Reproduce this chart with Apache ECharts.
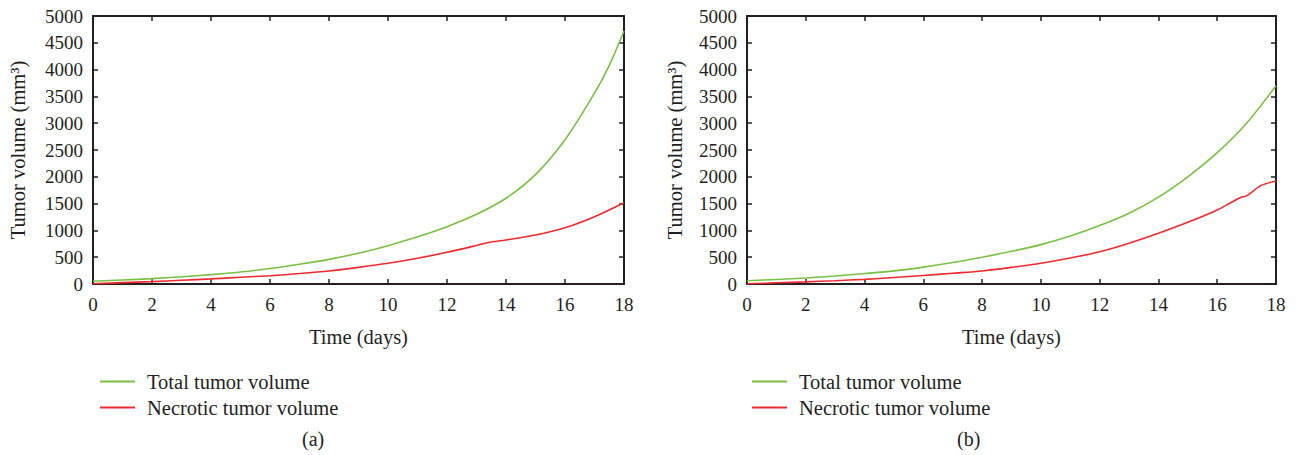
<!DOCTYPE html>
<html>
<head>
<meta charset="utf-8">
<script src="https://cdn.jsdelivr.net/npm/echarts@6/dist/echarts.min.js"></script>
<style>
  html, body { margin: 0; padding: 0; background: #fff; }
  #chart { width: 1301px; height: 455px; }
</style>
</head>
<body>
<div id="chart"></div>
<script>
// panel (a)
var daysTotalA = [0, 1, 2, 3, 4, 5, 6, 7, 8, 9, 10, 11, 12, 13, 14, 15, 16, 17, 17.5, 18];
var totalA = [50, 75, 100, 135, 175, 225, 290, 370, 460, 575, 715, 880, 1070, 1300, 1600, 2040, 2690, 3560, 4080, 4720];
var daysNecroA = [0, 1, 2, 3, 4, 5, 6, 7, 8, 9, 10, 11, 12, 13, 13.4, 14, 15, 16, 17, 18];
var necroA = [5, 25, 45, 70, 95, 125, 155, 195, 243, 310, 386, 480, 591, 720, 775, 821, 914, 1050, 1256, 1517];

// panel (b)
var daysTotalB = [0, 1, 2, 3, 4, 5, 6, 7, 8, 9, 10, 11, 12, 13, 14, 15, 16, 17, 18];
var totalB = [60, 85, 112, 150, 195, 245, 315, 400, 500, 610, 735, 895, 1090, 1320, 1620, 2000, 2450, 3000, 3700];
var daysNecroB = [0, 1, 2, 3, 4, 5, 6, 7, 8, 9, 10, 11, 12, 13, 14, 15, 16, 16.5, 16.8, 17, 17.5, 18];
var necroB = [5, 22, 40, 62, 87, 120, 158, 200, 243, 310, 386, 485, 600, 760, 946, 1150, 1380, 1530, 1615, 1645, 1840, 1920];

var xTicks = [0, 2, 4, 6, 8, 10, 12, 14, 16, 18];
var yTicks = [0, 500, 1000, 1500, 2000, 2500, 3000, 3500, 4000, 4500, 5000];
var seriesNames = ['Total tumor volume', 'Necrotic tumor volume'];
var panelLabels = ['(a)', '(b)'];

var ink = '#231f20';
var green = '#78c043';
var red = '#ee2a2e';
var font = '"Liberation Serif", "DejaVu Serif", serif';

function pairs(xs, ys) {
  return xs.map(function(x, i) { return [x, ys[i]]; });
}

var grids = [
  { left: 93, width: 531, top: 16, bottom: 171 },
  { left: 747, width: 529, top: 16, bottom: 171 }
];

var xAxes = [], yAxes = [];
grids.forEach(function(g, gi) {
  // bottom + top (top only carries ticks)
  ['bottom', 'top'].forEach(function(pos) {
    xAxes.push({
      type: 'value', gridIndex: gi, position: pos,
      min: xTicks[0], max: xTicks[xTicks.length - 1], interval: 2,
      name: pos === 'bottom' ? 'Time (days)' : '',
      nameLocation: 'middle', nameGap: 42,
      nameTextStyle: { color: ink, fontFamily: font, fontSize: 20.5 },
      axisLine: { show: true, onZero: false, lineStyle: { color: ink, width: 2 } },
      axisTick: { show: true, inside: true, length: 5, lineStyle: { color: ink, width: 1.5 } },
      axisLabel: { show: pos === 'bottom', color: ink, fontFamily: font, fontSize: 19, margin: 11 },
      splitLine: { show: false }
    });
  });
  // left + right (right only carries ticks)
  ['left', 'right'].forEach(function(pos) {
    yAxes.push({
      type: 'value', gridIndex: gi, position: pos,
      min: yTicks[0], max: yTicks[yTicks.length - 1], interval: 500,
      name: pos === 'left' ? 'Tumor volume (mm³)' : '',
      nameLocation: 'middle', nameGap: gi === 0 ? 65 : 62,
      nameTextStyle: { color: ink, fontFamily: font, fontSize: 20.5 },
      axisLine: { show: true, onZero: false, lineStyle: { color: ink, width: 2 } },
      axisTick: { show: true, inside: true, length: 5, lineStyle: { color: ink, width: 1.5 } },
      axisLabel: {
        show: pos === 'left', color: ink, fontFamily: font, fontSize: 19, margin: 10,
        formatter: function(v) { return String(v); }
      },
      splitLine: { show: false }
    });
  });
});

function lineSeries(name, color, data, gi) {
  return {
    type: 'line', name: name,
    xAxisIndex: gi * 2, yAxisIndex: gi * 2,
    data: data, symbol: 'none', smooth: 0.3,
    lineStyle: { color: color, width: 1.6 },
    itemStyle: { color: color },
    silent: true
  };
}

function legendAt(left) {
  return {
    left: left, top: 366, orient: 'vertical', icon: 'rect',
    itemWidth: 35, itemHeight: 2, itemGap: 5,
    data: seriesNames, selectedMode: false,
    textStyle: { color: ink, fontFamily: font, fontSize: 20.5, padding: [0, 0, 0, 7] }
  };
}

var chart = echarts.init(document.getElementById('chart'), null, { renderer: 'svg' });
chart.setOption({
  animation: false,
  backgroundColor: '#fff',
  grid: grids,
  xAxis: xAxes,
  yAxis: yAxes,
  legend: [legendAt(95), legendAt(747)],
  graphic: [
    { type: 'text', left: 302, top: 429, style: { text: panelLabels[0], fill: ink, font: '20px ' + font } },
    { type: 'text', left: 957, top: 429, style: { text: panelLabels[1], fill: ink, font: '20px ' + font } }
  ],
  series: [
    lineSeries(seriesNames[0], green, pairs(daysTotalA, totalA), 0),
    lineSeries(seriesNames[1], red, pairs(daysNecroA, necroA), 0),
    lineSeries(seriesNames[0], green, pairs(daysTotalB, totalB), 1),
    lineSeries(seriesNames[1], red, pairs(daysNecroB, necroB), 1)
  ]
});
window.addEventListener('resize', function() { chart.resize(); });
</script>
</body>
</html>
